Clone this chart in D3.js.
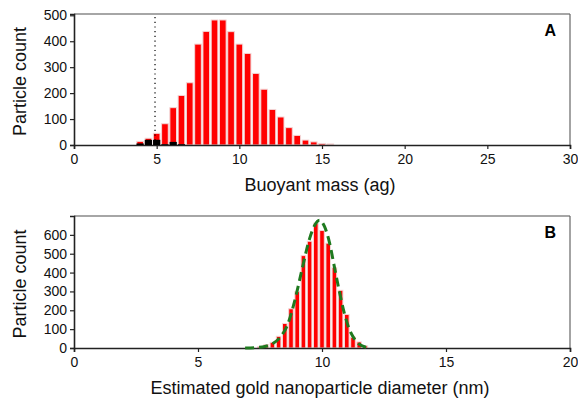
<!DOCTYPE html>
<html>
<head>
<meta charset="utf-8">
<script src="https://cdn.jsdelivr.net/npm/d3@7"></script>
<style>
body { margin: 0; background: #fff; }
text { font-family: "Liberation Sans", Arial, sans-serif; }
</style>
</head>
<body>
<script>
// panel A: buoyant mass histogram (bin centres in ag, 0.5 wide)
var massBins = [4.0, 4.5, 5.0, 5.5, 6.0, 6.5, 7.0, 7.5, 8.0, 8.5, 9.0, 9.5, 10.0, 10.5, 11.0, 11.5, 12.0, 12.5, 13.0, 13.5, 14.0, 14.5, 15.0, 15.5];
var massCounts = [14, 26, 45, 82, 144, 191, 240, 389, 438, 482, 482, 437, 389, 353, 276, 215, 137, 108, 67, 37, 19, 12, 6, 4];
// black (excluded) particles
var blackBins = [4.0, 4.5, 5.0, 5.5, 6.0, 6.5];
var blackCounts = [6, 20, 20, 3, 12, 3];
var cutoff = 4.9;
var massTicks = [0, 5, 10, 15, 20, 25, 30];
var countTicksA = [0, 100, 200, 300, 400, 500];

// panel B: estimated diameter histogram (bin centres in nm, 0.25 wide)
var diamBins = [7.5, 7.75, 8.0, 8.25, 8.5, 8.75, 9.0, 9.25, 9.5, 9.75, 10.0, 10.25, 10.5, 10.75, 11.0, 11.25, 11.5, 11.75];
var diamCounts = [7, 18, 30, 62, 130, 208, 299, 490, 566, 662, 623, 556, 427, 306, 178, 57, 32, 11];
// fitted curve
var fitX = [6.9, 7.3, 7.7, 8.0, 8.3, 8.6, 8.9, 9.2, 9.5, 9.7, 9.9, 10.1, 10.3, 10.5, 10.7, 10.9, 11.1, 11.3, 11.5, 11.8];
var fitY = [0, 2, 8, 22, 55, 120, 250, 420, 580, 650, 678, 645, 560, 430, 300, 185, 100, 50, 20, 3];
var diamTicks = [0, 5, 10, 15, 20];
var countTicksB = [0, 100, 200, 300, 400, 500, 600];

var width = 578;
var height = 398;

var svg = d3.select("body")
    .append("svg")
    .attr("width", width)
    .attr("height", height);

function panel(opt) {
    var g = svg.append("g");
    var x = d3.scaleLinear().domain(opt.xDomain).range([74, 570]);
    var y = d3.scaleLinear().domain(opt.yDomain).range([opt.bottom, opt.top]);

    // top and right frame
    g.append("line")
        .attr("x1", 74).attr("x2", 570)
        .attr("y1", opt.top).attr("y2", opt.top)
        .attr("stroke", "#888").attr("stroke-width", 1.5);
    g.append("line")
        .attr("x1", 570).attr("x2", 570)
        .attr("y1", opt.top).attr("y2", opt.bottom)
        .attr("stroke", "#666").attr("stroke-width", 1.2);

    // bars
    var bw = x(opt.binWidth) - x(0);
    g.selectAll(".bar")
        .data(opt.bins)
        .enter().append("rect")
        .attr("class", "bar")
        .attr("x", function(d) { return x(d) - bw / 2 + 0.8; })
        .attr("width", bw - 1.6)
        .attr("y", function(d, i) { return y(opt.counts[i]); })
        .attr("height", function(d, i) { return opt.bottom - y(opt.counts[i]); })
        .attr("fill", "#ff0000")
        .attr("stroke", "#f3d6d6")
        .attr("stroke-width", 1);

    var xAxis = g.append("g")
        .attr("transform", "translate(0," + opt.bottom + ")")
        .call(d3.axisBottom(x).tickValues(opt.xTicks).tickSize(4).tickPadding(5));
    var yAxis = g.append("g")
        .attr("transform", "translate(74,0)")
        .call(d3.axisLeft(y).tickValues(opt.yTicks).tickSize(4).tickPadding(3));

    [xAxis, yAxis].forEach(function(a) {
        a.select(".domain").attr("stroke", "#222").attr("stroke-width", 1.6);
        a.selectAll(".tick line").attr("stroke", "#222").attr("stroke-width", 1.2);
        a.selectAll(".tick text")
            .attr("fill", "#111")
            .style("font-size", "14px")
            .style("font-family", "'Liberation Sans', Arial, sans-serif");
    });

    g.append("text")
        .attr("x", 320)
        .attr("y", opt.bottom + 46)
        .attr("text-anchor", "middle")
        .style("font-size", "18px")
        .attr("fill", "#111")
        .text(opt.xLabel);

    g.append("text")
        .attr("transform", "translate(26," + ((opt.top + opt.bottom) / 2 + 2) + ") rotate(-90)")
        .attr("text-anchor", "middle")
        .style("font-size", "18px")
        .attr("fill", "#111")
        .text("Particle count");

    g.append("text")
        .attr("x", 556)
        .attr("y", opt.top + 22)
        .attr("text-anchor", "end")
        .style("font-size", "16px")
        .style("font-weight", "bold")
        .text(opt.tag);

    return { g: g, x: x, y: y };
}

// panel A
var a = panel({
    xDomain: [0, 30], yDomain: [0, 505], top: 14, bottom: 145,
    bins: massBins, counts: massCounts, binWidth: 0.5,
    xTicks: massTicks, yTicks: countTicksA,
    xLabel: "Buoyant mass (ag)", tag: "A"
});

var bwA = a.x(0.5) - a.x(0);
a.g.selectAll(".black")
    .data(blackBins)
    .enter().append("rect")
    .attr("x", function(d) { return a.x(d) - bwA / 2 + 0.5; })
    .attr("width", bwA - 1)
    .attr("y", function(d, i) { return a.y(blackCounts[i]); })
    .attr("height", function(d, i) { return 145 - a.y(blackCounts[i]); })
    .attr("fill", "#000");

a.g.append("line")
    .attr("x1", a.x(cutoff)).attr("x2", a.x(cutoff))
    .attr("y1", 17).attr("y2", 140)
    .attr("stroke", "#000")
    .attr("stroke-width", 1.2)
    .attr("stroke-dasharray", "1.2,3.5");

// panel B
var b = panel({
    xDomain: [0, 20], yDomain: [0, 700], top: 216, bottom: 348,
    bins: diamBins, counts: diamCounts, binWidth: 0.25,
    xTicks: diamTicks, yTicks: countTicksB,
    xLabel: "Estimated gold nanoparticle diameter (nm)", tag: "B"
});

var fit = fitX.map(function(d, i) { return [d, fitY[i]]; });
b.g.append("path")
    .datum(fit)
    .attr("d", d3.line()
        .x(function(d) { return b.x(d[0]); })
        .y(function(d) { return b.y(d[1]); })
        .curve(d3.curveMonotoneX))
    .attr("fill", "none")
    .attr("stroke", "#1f7a1f")
    .attr("stroke-width", 3)
    .attr("stroke-dasharray", "9,5");
</script>
</body>
</html>
